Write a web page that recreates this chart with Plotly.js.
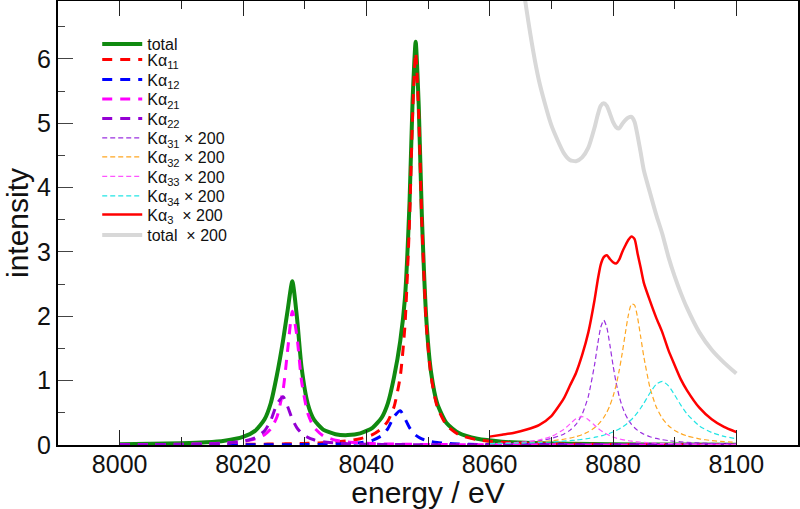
<!DOCTYPE html>
<html>
<head>
<meta charset="utf-8">
<script src="https://cdn.plot.ly/plotly-3.0.1.min.js"></script>
<style>html,body{margin:0;padding:0;background:#fff}#chart{width:800px;height:509px}</style>
</head>
<body>
<div id="chart"></div>
<script>
// ---- main Kα1 / Kα2 region (energy grid, eV) ----
const energy = [8000, 8005, 8010, 8014, 8017, 8020, 8022, 8023.5, 8024.5, 8025.5, 8026.5, 8027.25, 8028, 8028.75, 8029.5, 8030.5, 8031.5, 8033, 8035, 8037, 8039, 8041, 8042.5, 8043.5, 8044.5, 8045.5, 8046.25, 8047, 8047.5, 8048, 8048.5, 8049, 8049.75, 8050.5, 8051.5, 8053, 8055, 8058, 8062, 8067, 8073, 8080, 8090, 8100];
const total = [0.0125, 0.0176, 0.0272, 0.0429, 0.0674, 0.125, 0.223, 0.400, 0.649, 1.088, 1.627, 2.102, 2.545, 1.981, 1.204, 0.642, 0.396, 0.240, 0.168, 0.154, 0.180, 0.267, 0.428, 0.652, 1.058, 1.617, 2.269, 3.760, 5.347, 6.268, 5.263, 3.581, 1.921, 1.129, 0.643, 0.341, 0.185, 0.096, 0.052, 0.030, 0.018, 0.011, 0.007, 0.005];
const ka11 = [0.0035, 0.0044, 0.0056, 0.0070, 0.0084, 0.0103, 0.0119, 0.0134, 0.0146, 0.0159, 0.0174, 0.0187, 0.0201, 0.0217, 0.0235, 0.0263, 0.0295, 0.0357, 0.0474, 0.0659, 0.098, 0.160, 0.256, 0.374, 0.594, 1.065, 1.840, 3.474, 5.130, 6.1, 5.130, 3.474, 1.840, 1.065, 0.594, 0.307, 0.160, 0.080, 0.041, 0.022, 0.013, 0.008, 0.005, 0.003];
const ka12 = [0.0008, 0.0010, 0.0013, 0.0016, 0.0019, 0.0024, 0.0029, 0.0033, 0.0036, 0.0040, 0.0044, 0.0048, 0.0052, 0.0057, 0.0062, 0.0070, 0.0081, 0.0101, 0.0143, 0.0217, 0.0367, 0.073, 0.145, 0.255, 0.442, 0.533, 0.412, 0.270, 0.202, 0.153, 0.119, 0.094, 0.069, 0.052, 0.038, 0.025, 0.016, 0.0095, 0.0055, 0.0033, 0.0020, 0.0013, 0.0008, 0.0005];
const ka21 = [0.0047, 0.0069, 0.0112, 0.0184, 0.0296, 0.0549, 0.0948, 0.161, 0.251, 0.434, 0.854, 1.484, 2.078, 1.687, 0.991, 0.491, 0.277, 0.143, 0.0749, 0.0457, 0.0307, 0.0220, 0.0177, 0.0155, 0.0137, 0.0121, 0.0112, 0.0103, 0.0098, 0.0093, 0.0089, 0.0084, 0.0079, 0.0073, 0.0067, 0.0060, 0.0051, 0.0041, 0.0032, 0.0024, 0.0018, 0.0014, 0.0010, 0.0007];
const ka22 = [0.0035, 0.0054, 0.0092, 0.0159, 0.0274, 0.0574, 0.113, 0.222, 0.380, 0.635, 0.751, 0.594, 0.402, 0.266, 0.183, 0.118, 0.0813, 0.0512, 0.0312, 0.0209, 0.0150, 0.0112, 0.0093, 0.0082, 0.0074, 0.0066, 0.0061, 0.0057, 0.0054, 0.0052, 0.0050, 0.0048, 0.0045, 0.0042, 0.0039, 0.0034, 0.0030, 0.0024, 0.0019, 0.0015, 0.0011, 0.0009, 0.0006, 0.0005];

// ---- satellite region (values already multiplied by 200) ----
const satEnergy = [8060, 8062, 8064, 8066, 8068, 8070, 8072, 8073, 8074, 8075, 8076, 8077, 8077.5, 8078, 8078.5, 8079, 8079.5, 8080, 8080.5, 8081, 8081.5, 8082, 8082.5, 8083, 8083.5, 8084, 8084.5, 8085, 8086, 8087, 8088, 8089, 8090, 8091, 8092, 8094, 8096, 8098, 8100];
const ka31 = [0.022, 0.028, 0.036, 0.048, 0.068, 0.102, 0.168, 0.227, 0.320, 0.478, 0.757, 1.242, 1.552, 1.826, 1.94, 1.826, 1.552, 1.242, 0.970, 0.757, 0.597, 0.478, 0.388, 0.320, 0.268, 0.227, 0.194, 0.168, 0.129, 0.102, 0.082, 0.068, 0.057, 0.048, 0.042, 0.032, 0.025, 0.020, 0.017];
const ka32 = [0.022, 0.026, 0.031, 0.039, 0.050, 0.065, 0.089, 0.107, 0.130, 0.161, 0.205, 0.267, 0.309, 0.362, 0.427, 0.510, 0.616, 0.753, 0.929, 1.154, 1.429, 1.737, 2.023, 2.193, 2.173, 1.972, 1.675, 1.371, 0.890, 0.593, 0.413, 0.300, 0.227, 0.177, 0.141, 0.096, 0.069, 0.052, 0.041];
const ka33 = [0.019, 0.026, 0.035, 0.050, 0.078, 0.132, 0.242, 0.325, 0.408, 0.440, 0.394, 0.308, 0.265, 0.227, 0.194, 0.167, 0.144, 0.124, 0.108, 0.095, 0.084, 0.074, 0.066, 0.059, 0.054, 0.048, 0.044, 0.040, 0.034, 0.029, 0.025, 0.022, 0.019, 0.017, 0.015, 0.012, 0.010, 0.008, 0.007];
const ka34 = [0.020, 0.023, 0.027, 0.032, 0.038, 0.047, 0.059, 0.067, 0.076, 0.087, 0.101, 0.118, 0.128, 0.139, 0.152, 0.166, 0.183, 0.202, 0.224, 0.249, 0.278, 0.312, 0.351, 0.396, 0.448, 0.508, 0.575, 0.649, 0.808, 0.942, 0.989, 0.920, 0.776, 0.619, 0.483, 0.298, 0.194, 0.134, 0.098];
const ka3 = [0.13, 0.16, 0.19, 0.24, 0.31, 0.45, 0.72, 0.92, 1.12, 1.40, 1.75, 2.25, 2.55, 2.80, 2.92, 2.95, 2.89, 2.84, 2.82, 2.88, 3.00, 3.10, 3.19, 3.24, 3.20, 2.97, 2.75, 2.52, 2.24, 1.98, 1.75, 1.47, 1.24, 1.02, 0.85, 0.58, 0.40, 0.28, 0.20];
const total200 = [13.81, 10.47, 8.26, 6.75, 5.66, 4.97, 4.54, 4.43, 4.41, 4.47, 4.62, 4.93, 5.12, 5.27, 5.31, 5.27, 5.15, 5.02, 4.94, 4.92, 4.99, 5.05, 5.09, 5.10, 5.02, 4.80, 4.54, 4.27, 3.92, 3.58, 3.28, 2.92, 2.62, 2.36, 2.13, 1.75, 1.48, 1.28, 1.11];

const seriesNames = ['total', 'Kα<sub>11</sub>', 'Kα<sub>12</sub>', 'Kα<sub>21</sub>', 'Kα<sub>22</sub>',
  'Kα<sub>31</sub> × 200', 'Kα<sub>32</sub> × 200', 'Kα<sub>33</sub> × 200', 'Kα<sub>34</sub> × 200',
  'Kα<sub>3</sub>\u00a0 × 200', 'total\u00a0 × 200'];

const FONT = 'Liberation Sans, Arial, Helvetica, sans-serif';
const legendIds = ['legend', 'legend2', 'legend3', 'legend4', 'legend5', 'legend6', 'legend7', 'legend8', 'legend9', 'legend10', 'legend11'];
function tr(i, x, y, color, width, dash) {
  return {x: x, y: y, name: seriesNames[i], legend: legendIds[i], type: 'scatter', mode: 'lines',
    line: {color: color, width: width, dash: dash || 'solid', shape: 'spline', smoothing: 0.6}};
}
const data = [
  tr(0, energy, total, '#108a10', 4),
  tr(1, energy, ka11, '#ff0000', 3, '10px,8px'),
  tr(2, energy, ka12, '#0000ff', 3, '10px,8px'),
  tr(3, energy, ka21, '#ff00ff', 3, '10px,8px'),
  tr(4, energy, ka22, '#9400d3', 3, '10px,8px'),
  tr(5, satEnergy, ka31, '#9b30e0', 1.2, '5px,3px'),
  tr(6, satEnergy, ka32, '#ffa620', 1.2, '5px,3px'),
  tr(7, satEnergy, ka33, '#ff55ff', 1.2, '5px,3px'),
  tr(8, satEnergy, ka34, '#22e5e5', 1.2, '5px,3px'),
  tr(9, satEnergy, ka3, '#ff0000', 2.5),
  tr(10, satEnergy, total200, '#d8d8d8', 4)
];

const layout = {
  width: 800, height: 509,
  margin: {l: 58, r: 2, t: 1, b: 64},
  paper_bgcolor: '#fff', plot_bgcolor: '#fff',
  font: {family: FONT, color: '#111'},
  showlegend: true,
  xaxis: {
    range: [7990, 8110], tick0: 8000, dtick: 20,
    ticks: 'inside', ticklen: 15, tickwidth: 1, tickcolor: '#222',
    minor: {ticks: 'inside', dtick: 10, tick0: 8000, ticklen: 8, tickcolor: '#222', tickwidth: 1},
    showline: true, linecolor: '#000', linewidth: 2, mirror: 'ticks',
    showgrid: false, zeroline: false, ticklabelstandoff: -4,
    tickfont: {family: FONT, size: 25, color: '#111'},
    title: {text: 'energy / eV', font: {family: FONT, size: 30, color: '#111'}, standoff: 8}
  },
  yaxis: {
    range: [0, 6.9], tick0: 0, dtick: 1,
    ticks: 'inside', ticklen: 15, tickwidth: 1, tickcolor: '#444',
    minor: {ticks: 'inside', dtick: 0.5, ticklen: 7, tickcolor: '#444', tickwidth: 1},
    showline: true, linecolor: '#000', linewidth: 2, mirror: true,
    showgrid: false, zeroline: false,
    tickfont: {family: FONT, size: 25, color: '#111'},
    title: {text: 'intensity', font: {family: FONT, size: 30, color: '#111'}, standoff: 0}
  },
  yaxis2: {
    overlaying: 'y', side: 'right', range: [0, 6.9], tick0: 0, dtick: 1,
    ticks: 'inside', ticklen: 8, tickwidth: 1, tickcolor: '#444',
    minor: {ticks: 'inside', dtick: 0.5, ticklen: 5, tickcolor: '#444', tickwidth: 1},
    showticklabels: false, showline: false, showgrid: false, zeroline: false, fixedrange: true
  }
};
// one legend box per row, placed at the reference row positions
const rowPx = [44, 59.5, 79.5, 99, 118.5, 138, 157, 176.5, 196, 214.5, 235];
legendIds.forEach(function (id, i) {
  layout[id] = {x: 0.053, y: (445 - rowPx[i]) / 444, xanchor: 'left', yanchor: 'middle',
    bgcolor: 'rgba(0,0,0,0)', borderwidth: 0, itemwidth: 40,
    font: {family: FONT, size: 16, color: '#111'}};
});
Plotly.newPlot('chart', data, layout, {staticPlot: true, displayModeBar: false});
</script>
</body>
</html>
